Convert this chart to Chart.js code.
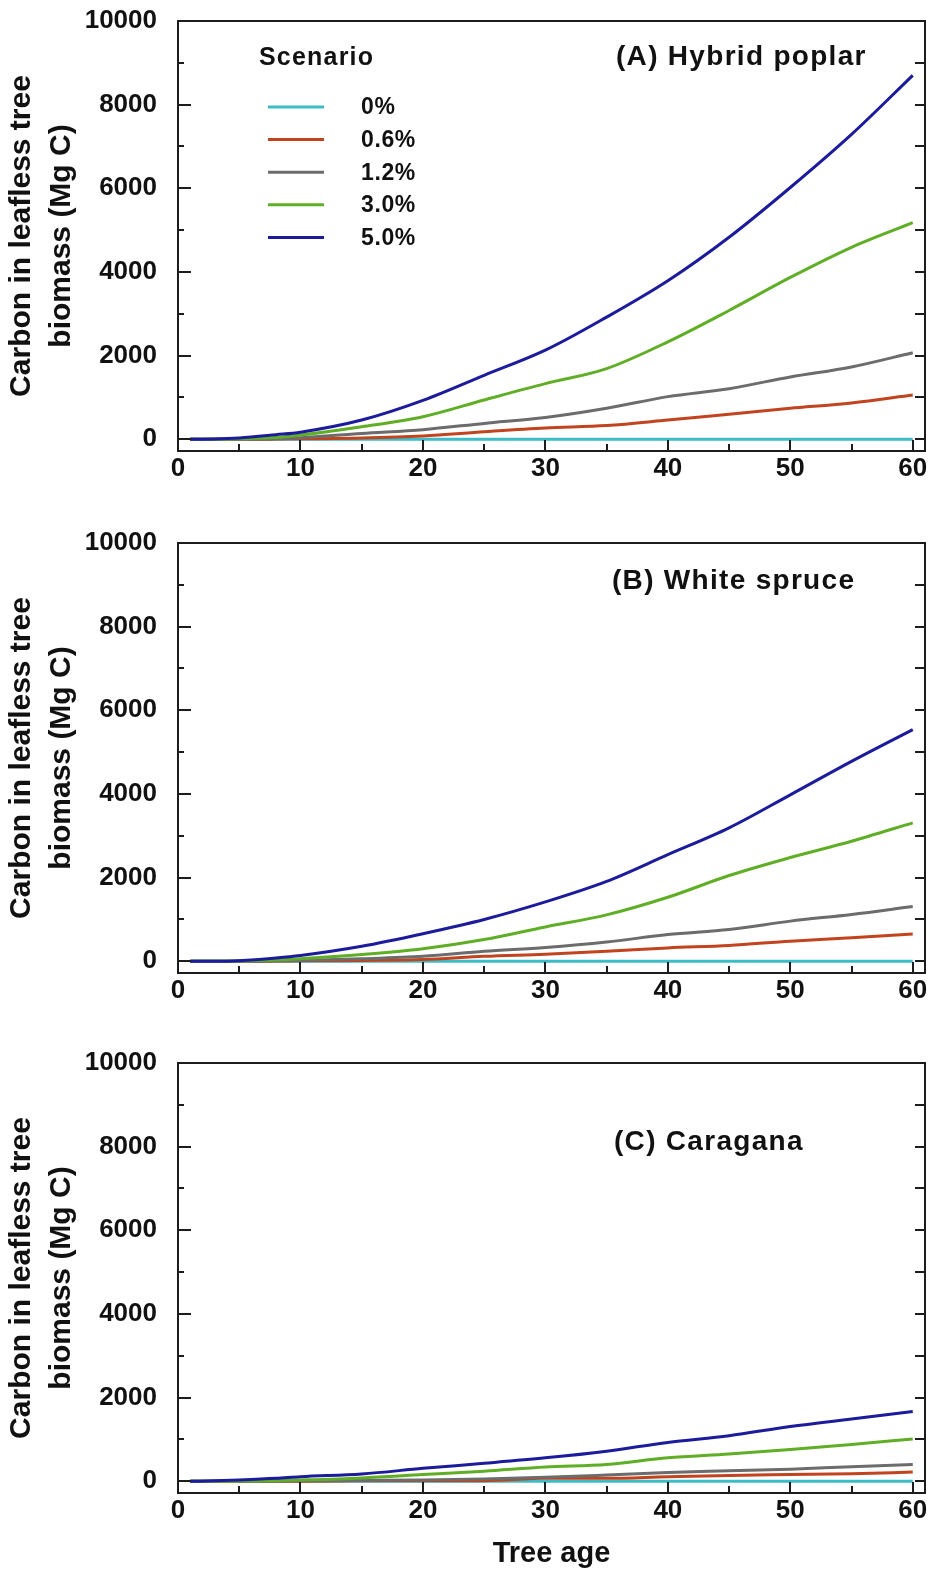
<!DOCTYPE html>
<html>
<head>
<meta charset="utf-8">
<script src="https://cdn.jsdelivr.net/npm/chart.js@4.4.1/dist/chart.umd.min.js"></script>
<style>
  html, body { margin: 0; padding: 0; background: #fff; }
  body { width: 930px; height: 1572px; position: relative; overflow: hidden; }
  canvas { position: absolute; left: 0; }
</style>
</head>
<body>
<canvas id="panelA" width="930" height="520" style="top:0px"></canvas>
<canvas id="panelB" width="930" height="520" style="top:522px"></canvas>
<canvas id="panelC" width="930" height="530" style="top:1042px"></canvas>
<script>
// Tree age (years) at which carbon was sampled
const ages = [1, 3, 5, 8, 10, 15, 20, 25, 30, 35, 40, 45, 50, 55, 60];

// Scenario names and line colours
const scenarios = ['0%', '0.6%', '1.2%', '3.0%', '5.0%'];
const scenarioColors = ['#3cbcc6', '#c2441f', '#6c6c6c', '#5fae26', '#1b1b9c'];

// (A) Hybrid poplar, Mg C
const poplar00 = [0, 0, 0, 0, 0, 0, 0, 0, 0, 0, 0, 0, 0, 0, 0];
const poplar06 = [0, 0, 0, 5, 10, 30, 80, 180, 270, 330, 460, 600, 740, 870, 1060];
const poplar12 = [0, 0, 0, 10, 35, 140, 230, 380, 520, 740, 1020, 1210, 1490, 1730, 2070];
const poplar30 = [0, 0, 10, 40, 100, 300, 540, 940, 1330, 1690, 2330, 3080, 3870, 4590, 5180];
const poplar50 = [0, 5, 30, 110, 170, 460, 930, 1530, 2130, 2920, 3790, 4830, 6020, 7290, 8700];

// (B) White spruce, Mg C
const spruce00 = [0, 0, 0, 0, 0, 0, 0, 0, 0, 0, 0, 0, 0, 0, 0];
const spruce06 = [0, 0, 0, 5, 10, 20, 40, 120, 170, 240, 320, 380, 480, 560, 650];
const spruce12 = [0, 0, 0, 10, 20, 60, 120, 240, 330, 460, 640, 760, 960, 1120, 1310];
const spruce30 = [0, 0, 5, 30, 60, 160, 300, 520, 820, 1110, 1530, 2050, 2480, 2870, 3310];
const spruce50 = [0, 0, 15, 80, 140, 360, 660, 1000, 1420, 1910, 2550, 3190, 3980, 4780, 5540];

// (C) Caragana, Mg C
const caragana00 = [0, 0, 0, 0, 0, 0, 0, 0, 0, 0, 0, 0, 0, 0, 0];
const caragana06 = [0, 0, 0, 0, 0, 10, 15, 15, 70, 70, 110, 140, 160, 180, 220];
const caragana12 = [0, 0, 0, 5, 10, 20, 30, 55, 95, 150, 210, 250, 290, 350, 400];
const caragana30 = [0, 0, 5, 15, 30, 80, 160, 240, 340, 400, 560, 650, 760, 880, 1010];
const caragana50 = [0, 10, 30, 70, 110, 175, 310, 430, 560, 720, 930, 1090, 1310, 1490, 1670];

// Axis tick labels
const xTickValues = [0, 10, 20, 30, 40, 50, 60];
const yTickValues = [0, 2000, 4000, 6000, 8000, 10000];

const FONT = "'Liberation Sans', Arial, Helvetica, sans-serif";
const INK = '#111111';

// Box frame with inward major/minor tick marks
const framePlugin = {
  id: 'frame',
  afterDatasetsDraw(chart) {
    const { ctx, chartArea: a, scales: { x, y } } = chart;
    ctx.save();
    ctx.strokeStyle = '#1c1c1c';
    ctx.lineWidth = 2;
    ctx.beginPath();
    for (let v = 0; v <= y.max; v += 1000) {
      const py = Math.round(y.getPixelForValue(v));
      const major = v % 2000 === 0;
      ctx.moveTo(a.left, py); ctx.lineTo(a.left + (major ? 13 : 6), py);
      ctx.moveTo(a.right, py); ctx.lineTo(a.right - 10, py);
    }
    for (let v = 0; v <= 60; v += 5) {
      const px = Math.round(x.getPixelForValue(v));
      const major = v % 10 === 0;
      ctx.moveTo(px, a.bottom); ctx.lineTo(px, a.bottom - (major ? 11 : 7));
    }
    ctx.stroke();
    ctx.strokeRect(a.left, a.top, a.right - a.left, a.bottom - a.top);
    ctx.restore();
  }
};

// Panel caption, e.g. "(A) Hybrid poplar"
const captionPlugin = {
  id: 'caption',
  afterDraw(chart, args, opts) {
    if (!opts || !opts.text) return;
    const ctx = chart.ctx;
    ctx.save();
    ctx.font = 'bold 28px ' + FONT;
    if ('letterSpacing' in ctx) ctx.letterSpacing = '1.3px';
    ctx.fillStyle = INK;
    ctx.textAlign = 'left';
    ctx.textBaseline = 'alphabetic';
    ctx.fillText(opts.text, opts.x, opts.y);
    ctx.restore();
  }
};

// Scenario key drawn from the datasets themselves
const scenarioKeyPlugin = {
  id: 'scenarioKey',
  afterDraw(chart, args, opts) {
    if (!opts || !opts.show) return;
    const ctx = chart.ctx;
    ctx.save();
    ctx.fillStyle = INK;
    ctx.textBaseline = 'middle';
    ctx.textAlign = 'left';
    ctx.font = 'bold 25px ' + FONT;
    if ('letterSpacing' in ctx) ctx.letterSpacing = '1.2px';
    ctx.fillText('Scenario', 259, 58);
    if ('letterSpacing' in ctx) ctx.letterSpacing = '0.6px';
    ctx.font = 'bold 23px ' + FONT;
    chart.data.datasets.forEach((ds, i) => {
      const cy = 107 + i * 32.6;
      ctx.strokeStyle = ds.borderColor;
      ctx.lineWidth = 3;
      ctx.beginPath();
      ctx.moveTo(268, cy); ctx.lineTo(324, cy);
      ctx.stroke();
      ctx.fillText(ds.label, 361, cy + 1);
    });
    ctx.restore();
  }
};

function buildDatasets(seriesList) {
  return seriesList.map((vals, i) => ({
    label: scenarios[i],
    data: ages.map((a, k) => ({ x: a, y: vals[k] })),
    borderColor: scenarioColors[i],
    backgroundColor: scenarioColors[i],
    borderWidth: 3,
    pointRadius: 0,
    cubicInterpolationMode: 'monotone',
    fill: false,
    order: seriesList.length - i
  }));
}

function makePanel(id, seriesList, caption, withAgeTitle) {
  const xAxisHeight = withAgeTitle ? 79 : 69;
  return new Chart(document.getElementById(id), {
    type: 'line',
    data: { datasets: buildDatasets(seriesList) },
    options: {
      responsive: false,
      animation: false,
      devicePixelRatio: 1,
      layout: { padding: { left: 0, top: 21, right: 5, bottom: 0 } },
      plugins: {
        legend: { display: false },
        tooltip: { enabled: false },
        caption: caption,
        scenarioKey: { show: id === 'panelA' }
      },
      scales: {
        x: {
          type: 'linear',
          min: 0,
          max: 61,
          grid: { display: false, drawTicks: false },
          border: { display: false },
          afterBuildTicks: s => { s.ticks = xTickValues.map(v => ({ value: v })); },
          afterFit: s => { s.height = xAxisHeight; s.paddingLeft = 0; s.paddingRight = 0; },
          ticks: {
            padding: 2,
            color: INK,
            font: { family: FONT, size: 26, weight: 'bold' },
            callback: v => String(v)
          },
          title: {
            display: withAgeTitle,
            text: 'Tree age',
            color: INK,
            font: { family: FONT, size: 29, weight: 'bold' },
            padding: { top: 0, bottom: 1 }
          }
        },
        y: {
          type: 'linear',
          min: -280,
          max: 10000,
          grid: { display: false, drawTicks: false },
          border: { display: false },
          afterBuildTicks: s => { s.ticks = yTickValues.map(v => ({ value: v })); },
          afterFit: s => { s.width = 178; s.paddingTop = 0; s.paddingBottom = 0; },
          ticks: {
            padding: 21,
            color: INK,
            font: { family: FONT, size: 26, weight: 'bold' },
            callback: v => String(v)
          },
          title: {
            display: true,
            text: ['Carbon in leafless tree', 'biomass (Mg C)'],
            color: INK,
            font: { family: FONT, size: 30, weight: 'bold', lineHeight: 1.333 },
            padding: { top: 2, bottom: 0 }
          }
        }
      }
    },
    plugins: [framePlugin, captionPlugin, scenarioKeyPlugin]
  });
}

makePanel('panelA', [poplar00, poplar06, poplar12, poplar30, poplar50],
  { text: '(A) Hybrid poplar', x: 616, y: 65 }, false);
makePanel('panelB', [spruce00, spruce06, spruce12, spruce30, spruce50],
  { text: '(B) White spruce', x: 612, y: 67 }, false);
makePanel('panelC', [caragana00, caragana06, caragana12, caragana30, caragana50],
  { text: '(C) Caragana', x: 614, y: 108 }, true);
</script>
</body>
</html>
